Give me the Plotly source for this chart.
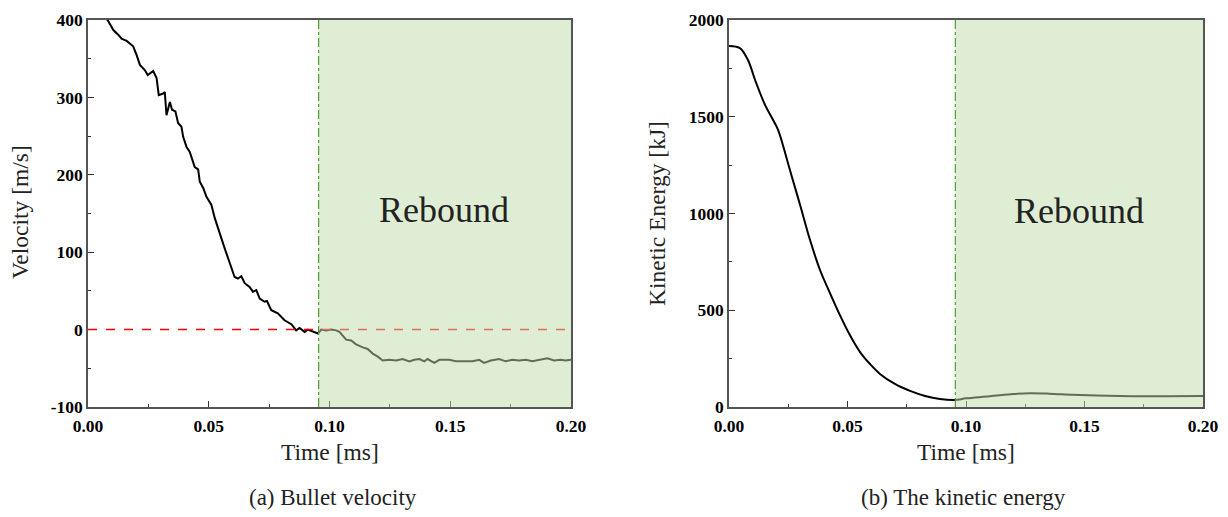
import plotly.graph_objects as go
from plotly.subplots import make_subplots

# (a) bullet velocity
t_vel = [0.0, 0.004, 0.0081, 0.0105, 0.0125, 0.0139, 0.016, 0.0187, 0.0201, 0.0215,
         0.0236, 0.0247, 0.027, 0.0284, 0.0293, 0.0311, 0.0318, 0.0325, 0.0339, 0.0348,
         0.0362, 0.0373, 0.0387, 0.0394, 0.0408, 0.0421, 0.0442, 0.0456, 0.0463, 0.0477,
         0.049, 0.0511, 0.0525, 0.0545, 0.0566, 0.0587, 0.0607, 0.0621, 0.0635, 0.0649,
         0.0669, 0.0683, 0.0697, 0.0711, 0.0731, 0.0741, 0.0759, 0.0786, 0.0814, 0.0842,
         0.0862, 0.0876, 0.0897, 0.091, 0.0931, 0.0952, 0.0966, 0.0986, 0.1007, 0.1028,
         0.1041, 0.1069, 0.109, 0.111, 0.1138, 0.1158, 0.1179, 0.12, 0.122, 0.1248,
         0.1276, 0.1303, 0.1331, 0.1351, 0.1372, 0.1393, 0.1406, 0.1434, 0.1455, 0.1496,
         0.1523, 0.1565, 0.1592, 0.162, 0.164, 0.1668, 0.1702, 0.173, 0.1757, 0.1785,
         0.1813, 0.184, 0.1868, 0.1902, 0.193, 0.1957, 0.1978, 0.2]
velocity = [418, 410, 400, 387, 381, 376, 373, 366, 355, 342,
            335, 329, 334, 325, 303, 305, 307, 277, 294, 284,
            282, 267, 262, 249, 236, 230, 210, 207, 191, 183,
            172, 161, 144, 124, 105, 86, 68, 66, 69, 60,
            55, 49, 51, 40, 36, 37, 25, 21, 12, 7,
            -1, 2, -3, 0, -3, -5, 0, -1, 0, -1,
            -3, -13, -14, -19, -23, -25, -31, -35, -40, -39,
            -40, -38, -41, -39, -38, -41, -38, -43, -39, -39,
            -41, -41, -41, -39, -43, -40, -38, -41, -39, -40,
            -39, -41, -39, -37, -40, -39, -40, -39]

# (b) kinetic energy
t_ke = [0.0, 0.0046, 0.008, 0.011, 0.0152, 0.0186, 0.0207, 0.0257, 0.030, 0.0342,
        0.0384, 0.0426, 0.0468, 0.051, 0.0553, 0.0595, 0.0637, 0.070, 0.0764, 0.0827,
        0.089, 0.0954, 0.10, 0.11, 0.12, 0.127, 0.135, 0.145, 0.155, 0.17, 0.185, 0.2]
energy = [1866, 1855, 1793, 1690, 1561, 1483, 1432, 1225, 1044, 863,
          708, 589, 475, 372, 284, 222, 171, 119, 83, 57,
          41, 36, 45, 55, 67, 71, 69, 63, 59, 56, 56, 57]

# tick labels (plain hyphen for the minus sign, as in the original)
vel_ticks = [-100, 0, 100, 200, 300, 400]
vel_ticktext = ["-100", "0", "100", "200", "300", "400"]

rebound_start = 0.0955
serif = "Liberation Serif"

# page is offset by the 8px body margin, so size the figure to fit the window
W, H, OFF = 1220, 509, 8


def px(x):
    return (x - OFF) / W


def py(y):
    return 1 - (y - OFF) / H


fig = make_subplots(rows=1, cols=2)
fig.add_trace(go.Scatter(x=t_vel, y=velocity, mode="lines",
                         line=dict(color="black", width=2)), row=1, col=1)
fig.add_trace(go.Scatter(x=t_ke, y=energy, mode="lines", line_shape="spline",
                         line=dict(color="black", width=2)), row=1, col=2)

# zero line
fig.add_shape(type="line", x0=0, x1=0.2, y0=0, y1=0, xref="x", yref="y",
              line=dict(color="red", width=1.5, dash="dash"))

# rebound zones (drawn over the curves, like the original)
for xr, yr, ymin, ymax in [("x", "y", -100, 400), ("x2", "y2", 0, 2000)]:
    fig.add_shape(type="rect", x0=rebound_start, x1=0.2, y0=ymin, y1=ymax,
                  xref=xr, yref=yr, fillcolor="rgb(191,219,171)", opacity=0.5,
                  line_width=0, layer="above")
    fig.add_shape(type="line", x0=rebound_start, x1=rebound_start, y0=ymin, y1=ymax,
                  xref=xr, yref=yr, layer="above",
                  line=dict(color="rgb(80,160,50)", width=1.2, dash="dashdot"))

fig.add_annotation(x=0.1475, y=154, xref="x", yref="y", text="Rebound", showarrow=False,
                   font=dict(family=serif, size=36, color="#222"))
fig.add_annotation(x=0.1477, y=1013, xref="x2", yref="y2", text="Rebound", showarrow=False,
                   font=dict(family=serif, size=36, color="#222"))

axis_common = dict(showline=True, linecolor="#555", linewidth=1.5, mirror=True,
                   ticks="inside", ticklen=6, tickwidth=1.2, tickcolor="#333",
                   showgrid=False, zeroline=False, automargin=False,
                   tickfont=dict(family=serif, size=17.5, color="black", weight="bold"))

fig.update_xaxes(range=[0, 0.2], dtick=0.05, tickformat=".2f", ticklabelstandoff=2,
                 minor=dict(ticks="inside", ticklen=3, dtick=0.025, tickcolor="#333"),
                 **axis_common)
fig.update_yaxes(**axis_common)
fig.update_yaxes(range=[-100, 400], tickmode="array", tickvals=vel_ticks,
                 ticktext=vel_ticktext,
                 minor=dict(ticks="inside", ticklen=3, dtick=50, tickcolor="#333"),
                 row=1, col=1)
fig.update_yaxes(range=[0, 2000], dtick=500,
                 minor=dict(ticks="inside", ticklen=3, dtick=250, tickcolor="#333"),
                 row=1, col=2)

fig.update_layout(
    xaxis=dict(domain=[px(88), px(571)]),
    xaxis2=dict(domain=[px(729), px(1203)]),
    yaxis=dict(domain=[py(407), py(20)]),
    yaxis2=dict(domain=[py(407), py(20)]),
)

# axis titles and captions
labels = [
    (330, 452, "Time [ms]", 23.5, 0),
    (966, 452, "Time [ms]", 23.5, 0),
    (20, 212, "Velocity [m/s]", 23.5, -90),
    (657, 214, "Kinetic Energy [kJ]", 23.5, -90),
    (333, 497, "(a) Bullet velocity", 23, 0),
    (963, 497, "(b) The kinetic energy", 23, 0),
]
for x, y, text, size, angle in labels:
    fig.add_annotation(x=px(x), y=py(y), xref="paper", yref="paper", text=text,
                       showarrow=False, textangle=angle, xanchor="center", yanchor="middle",
                       font=dict(family=serif, size=size, color="#222"))

fig.update_layout(width=W, height=H, autosize=False, showlegend=False,
                  margin=dict(l=0, r=0, t=0, b=0),
                  plot_bgcolor="white", paper_bgcolor="white")

fig.write_html("out.html")
